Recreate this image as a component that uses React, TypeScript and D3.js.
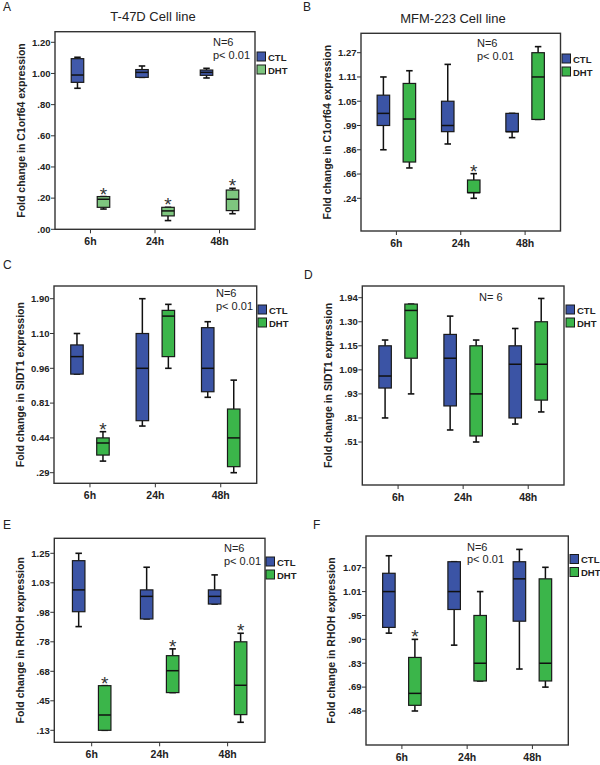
import React from "react";
import * as d3 from "d3";

// ---------- data ----------
const categories = ["6h", "24h", "48h"];
const groups = ["CTL", "DHT"];

// each entry: [min, q1, median, q3, max]
const aCTL = [[0.905, 0.943, 0.99, 1.095, 1.104], [0.975, 0.975, 1.007, 1.025, 1.048], [0.971, 0.988, 1.007, 1.022, 1.033]];
const aDHT = [[0.13, 0.141, 0.193, 0.21, 0.21], [0.056, 0.086, 0.118, 0.141, 0.141], [0.1, 0.12, 0.193, 0.252, 0.263]];
const aTicks = [0, 0.2, 0.4, 0.6, 0.8, 1.0, 1.2];
const aTickLabels = [".00", ".20", ".40", ".60", ".80", "1.00", "1.20"];
const aStars = [true, true, true];

const bCTL = [[0.86, 0.99, 1.02, 1.065, 1.11], [0.891, 0.957, 0.99, 1.05, 1.193], [0.925, 0.957, 0.957, 1.02, 1.02]];
const bDHT = [[0.71, 0.759, 1.006, 1.094, 1.151], [0.24, 0.338, 0.338, 0.557, 0.663], [1.005, 1.005, 1.11, 1.27, 1.31]];
const bTicks = [0.24, 0.66, 0.86, 0.99, 1.05, 1.11, 1.27];
const bTickLabels = [".24", ".66", ".86", ".99", "1.05", "1.11", "1.27"];
const bStars = [false, true, false];

const cCTL = [[0.935, 0.935, 1.007, 1.054, 1.1], [0.566, 0.623, 0.96, 1.1, 1.9], [0.835, 0.859, 0.96, 1.234, 1.371]];
const cDHT = [[0.34, 0.366, 0.418, 0.44, 0.506], [0.96, 1.007, 1.5, 1.632, 1.77], [0.29, 0.316, 0.44, 0.747, 0.909]];
const cTicks = [0.29, 0.44, 0.81, 0.96, 1.1, 1.9];
const cTickLabels = [".29", "0.44", "0.81", "0.96", "1.10", "1.90"];
const cStars = [true, false, false];

const dCTL = [[0.81, 0.969, 1.049, 1.15, 1.186], [0.66, 0.87, 1.119, 1.221, 1.45], [0.734, 0.81, 1.104, 1.15, 1.258]];
const dDHT = [[0.93, 1.119, 1.601, 1.77, 1.77], [0.51, 0.585, 0.93, 1.15, 1.186], [0.84, 0.899, 1.104, 1.3, 1.92]];
const dTicks = [0.51, 0.81, 0.93, 1.09, 1.15, 1.3, 1.94];
const dTickLabels = [".51", ".81", ".93", "1.09", "1.15", "1.30", "1.94"];
const dStars = [false, false, false];

const eCTL = [[0.883, 0.981, 1.018, 1.195, 1.25], [0.935, 0.935, 1.007, 1.018, 1.146], [0.994, 0.994, 1.007, 1.018, 1.089]];
const eDHT = [[0.13, 0.13, 0.296, 0.568, 0.568], [0.514, 0.514, 0.682, 0.733, 0.756], [0.217, 0.3, 0.571, 0.78, 0.838]];
const eTicks = [0.13, 0.45, 0.68, 0.78, 0.98, 1.03, 1.25];
const eTickLabels = [".13", ".45", ".68", ".78", ".98", "1.03", "1.25"];
const eStars = [true, true, true];

const fCTL = [[0.913, 0.925, 1.01, 1.056, 1.1], [0.883, 0.965, 1.01, 1.085, 1.085], [0.796, 0.938, 1.042, 1.085, 1.116]];
const fDHT = [[0.48, 0.53, 0.635, 0.847, 0.9], [0.726, 0.726, 0.83, 0.95, 1.01], [0.69, 0.726, 0.83, 1.042, 1.071]];
const fTicks = [0.48, 0.69, 0.83, 0.9, 0.95, 1.01, 1.07];
const fTickLabels = [".48", ".69", ".83", ".90", ".95", "1.01", "1.07"];
const fStars = [true, false, false];

// ---------- layout / style ----------
const FONT = "'Liberation Sans', Arial, Helvetica, sans-serif";
const BLUE = "#3b54a5";
const GREEN = "#3bb54a";
const BLUE_A = "#4159aa";
const GREEN_A = "#7ec67f";

type PanelProps = {
  letter: string; letterX: number; letterY: number;
  title?: string; titleX?: number; titleY?: number;
  frame: { l: number; t: number; r: number; b: number };
  tickBottomY: number; tickTopY: number;
  ticks: number[]; tickLabels: string[];
  ctl: number[][]; dht: number[][]; stars: boolean[];
  yLabel: string; yLabelX: number;
  notes: string[]; noteX: number; noteY: number;
  legendX: number; legendY: number;
  ctlColor: string; dhtColor: string;
};

function Panel(p: PanelProps) {
  const { frame } = p;
  const n = p.ticks.length;
  const tickPos = p.ticks.map((_, i) => p.tickBottomY + (p.tickTopY - p.tickBottomY) * (i / (n - 1)));
  const y = d3.scaleLinear().domain(p.ticks).range(tickPos);
  const x = d3.scalePoint<string>().domain(categories).range([frame.l, frame.r]).padding(0.55);
  const off = d3.scalePoint<string>().domain(groups).range([-13, 13]);
  const bw = 12.5;
  const cap = 6.5;
  const yLabelCY = (frame.t + frame.b) / 2;

  const drawBox = (d: number[], cx: number, fill: string, key: string) => {
    const [mn, q1, md, q3, mx] = d;
    return (
      <g key={key}>
        <line x1={cx} x2={cx} y1={y(mx)} y2={y(q3)} stroke="#111" strokeWidth={1.5} />
        <line x1={cx} x2={cx} y1={y(q1)} y2={y(mn)} stroke="#111" strokeWidth={1.5} />
        <line x1={cx - cap / 2} x2={cx + cap / 2} y1={y(mx)} y2={y(mx)} stroke="#111" strokeWidth={1.6} />
        <line x1={cx - cap / 2} x2={cx + cap / 2} y1={y(mn)} y2={y(mn)} stroke="#111" strokeWidth={1.6} />
        <rect x={cx - bw / 2} y={y(q3)} width={bw} height={Math.max(0.5, y(q1) - y(q3))} fill={fill} stroke="#1a1a1a" strokeWidth={1.2} />
        <line x1={cx - bw / 2} x2={cx + bw / 2} y1={y(md)} y2={y(md)} stroke="#111" strokeWidth={1.5} />
      </g>
    );
  };

  return (
    <g fontFamily={FONT}>
      <text x={p.letterX} y={p.letterY} fontSize={12} fill="#222">{p.letter}</text>
      {p.title && (
        <text x={p.titleX} y={p.titleY} fontSize={13} textAnchor="middle" fill="#222">{p.title}</text>
      )}
      <rect x={frame.l} y={frame.t} width={frame.r - frame.l} height={frame.b - frame.t} fill="white" stroke="#333" strokeWidth={1.4} />
      {p.ticks.map((t, i) => (
        <g key={"yt" + i}>
          <line x1={frame.l - 4} x2={frame.l} y1={y(t)} y2={y(t)} stroke="#333" strokeWidth={1} />
          <text x={frame.l - 4.5} y={y(t)} dy="0.35em" textAnchor="end" fontSize={9.5} fontWeight="bold" fill="#222">{p.tickLabels[i]}</text>
        </g>
      ))}
      {categories.map((c) => (
        <g key={"xt" + c}>
          <line x1={x(c)!} x2={x(c)!} y1={frame.b} y2={frame.b + 4} stroke="#333" strokeWidth={1} />
          <text x={x(c)!} y={frame.b + 16} textAnchor="middle" fontSize={10.5} fontWeight="bold" fill="#222">{c}</text>
        </g>
      ))}
      <text transform={`translate(${p.yLabelX},${yLabelCY}) rotate(-90)`} textAnchor="middle" dy="0.35em" fontSize={10.5} fontWeight="bold" fill="#222">{p.yLabel}</text>
      {categories.map((c, i) => drawBox(p.ctl[i], x(c)! + off("CTL")!, p.ctlColor, "c" + i))}
      {categories.map((c, i) => drawBox(p.dht[i], x(c)! + off("DHT")!, p.dhtColor, "d" + i))}
      {categories.map((c, i) =>
        p.stars[i] ? (
          <text key={"s" + i} x={x(c)! + off("DHT")!} y={y(p.dht[i][4]) + 4} textAnchor="middle" fontSize={19} fill="#333">*</text>
        ) : null
      )}
      {p.notes.map((t, i) => (
        <text key={"n" + i} x={p.noteX} y={p.noteY + i * 12.5} fontSize={11} fill="#222">{t}</text>
      ))}
      {groups.map((g, i) => (
        <g key={"lg" + g}>
          <rect x={p.legendX} y={p.legendY + i * 13} width={8.5} height={9} fill={i === 0 ? p.ctlColor : p.dhtColor} stroke="#1a1a1a" strokeWidth={1} />
          <text x={p.legendX + 11} y={p.legendY + i * 13 + 8.5} fontSize={9.5} fontWeight="bold" fill="#222">{g}</text>
        </g>
      ))}
    </g>
  );
}

export default function App() {
  return (
    <svg width={600} height={765} style={{ position: "absolute", left: 0, top: 0, background: "white" }}>
      <rect x={0} y={0} width={600} height={765} fill="white" />
      <Panel letter="A" letterX={3} letterY={11} title="T-47D Cell line" titleX={153} titleY={21}
        frame={{ l: 55, t: 31.7, r: 255, b: 229.3 }} tickBottomY={229.3} tickTopY={42.3}
        ticks={aTicks} tickLabels={aTickLabels} ctl={aCTL} dht={aDHT} stars={aStars}
        yLabel="Fold change in C1orf64 expression" yLabelX={21.5}
        notes={["N=6", "p< 0.01"]} noteX={213} noteY={46} legendX={257} legendY={52}
        ctlColor={BLUE_A} dhtColor={GREEN_A} />
      <Panel letter="B" letterX={303} letterY={11} title="MFM-223 Cell line" titleX={453} titleY={23}
        frame={{ l: 361, t: 33.3, r: 560.5, b: 231 }} tickBottomY={198.3} tickTopY={52.7}
        ticks={bTicks} tickLabels={bTickLabels} ctl={bCTL} dht={bDHT} stars={bStars}
        yLabel="Fold change in C1orf64 expression" yLabelX={327}
        notes={["N=6", "p< 0.01"]} noteX={477} noteY={47} legendX={562} legendY={54}
        ctlColor={BLUE} dhtColor={GREEN} />
      <Panel letter="C" letterX={3} letterY={269}
        frame={{ l: 54, t: 286, r: 256.7, b: 483.3 }} tickBottomY={472.7} tickTopY={298.7}
        ticks={cTicks} tickLabels={cTickLabels} ctl={cCTL} dht={cDHT} stars={cStars}
        yLabel="Fold change in SIDT1 expression" yLabelX={20.7}
        notes={["N=6", "p< 0.01"]} noteX={216} noteY={297} legendX={258} legendY={305}
        ctlColor={BLUE} dhtColor={GREEN} />
      <Panel letter="D" letterX={304} letterY={279}
        frame={{ l: 362.3, t: 286, r: 564, b: 485 }} tickBottomY={442} tickTopY={297.7}
        ticks={dTicks} tickLabels={dTickLabels} ctl={dCTL} dht={dDHT} stars={dStars}
        yLabel="Fold change in SIDT1 expression" yLabelX={328}
        notes={["N= 6"]} noteX={479} noteY={300.5} legendX={566} legendY={305}
        ctlColor={BLUE} dhtColor={GREEN} />
      <Panel letter="E" letterX={3} letterY={529}
        frame={{ l: 54.3, t: 538.3, r: 265, b: 742.3 }} tickBottomY={730.3} tickTopY={553.3}
        ticks={eTicks} tickLabels={eTickLabels} ctl={eCTL} dht={eDHT} stars={eStars}
        yLabel="Fold change in RHOH expression" yLabelX={20.7}
        notes={["N=6", "p< 0.01"]} noteX={224} noteY={552} legendX={266} legendY={557}
        ctlColor={BLUE} dhtColor={GREEN} />
      <Panel letter="F" letterX={313} letterY={529}
        frame={{ l: 366, t: 536, r: 568.3, b: 745 }} tickBottomY={711} tickTopY={567.7}
        ticks={fTicks} tickLabels={fTickLabels} ctl={fCTL} dht={fDHT} stars={fStars}
        yLabel="Fold change in RHOH expression" yLabelX={331.7}
        notes={["N=6", "p< 0.01"]} noteX={467} noteY={550.5} legendX={570} legendY={554.5}
        ctlColor={BLUE} dhtColor={GREEN} />
    </svg>
  );
}
